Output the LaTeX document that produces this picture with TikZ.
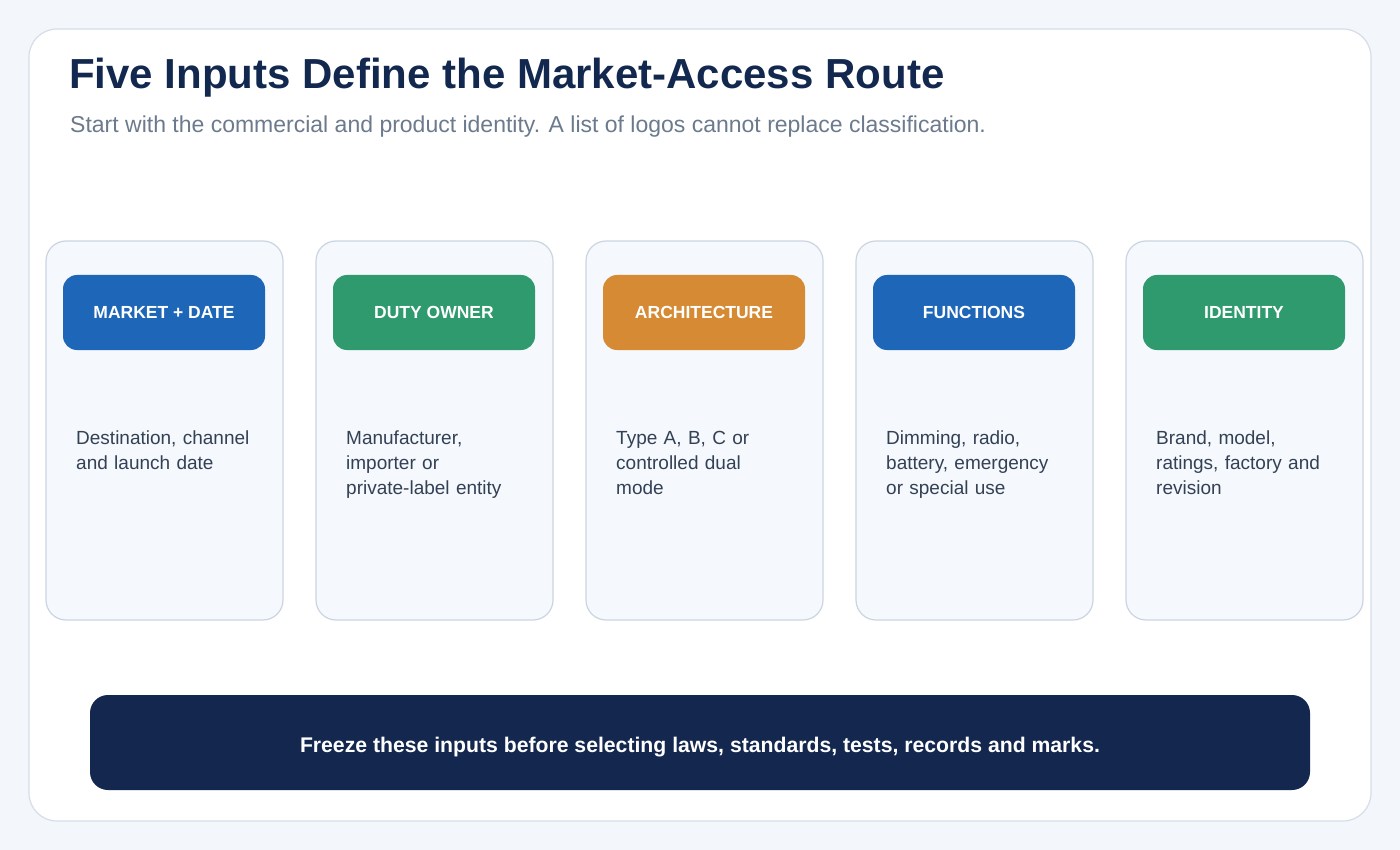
\documentclass[tikz,border=0pt]{standalone}
\usepackage{fontspec}
\setmainfont{Liberation Sans}
\definecolor{pagebg}{HTML}{F3F6FA}
\definecolor{cardline}{HTML}{D5DEE8}
\definecolor{colfill}{HTML}{F5F8FC}
\definecolor{colline}{HTML}{CBD5E1}
\definecolor{navy}{HTML}{13284F}
\definecolor{subgray}{HTML}{6B7A8D}
\definecolor{bodytxt}{HTML}{334155}
\definecolor{cblue}{HTML}{1E66B8}
\definecolor{cgreen}{HTML}{2E9A6E}
\definecolor{corange}{HTML}{D68A33}
\definecolor{banner}{HTML}{13274F}
\begin{document}
\begin{tikzpicture}[x=1pt,y=-1pt,
  colbox/.style={draw=colline,line width=1.2pt,fill=colfill,rounded corners=20pt},
  badge/.style={rounded corners=14pt,minimum width=202pt,minimum height=75pt,inner sep=0pt,
    text=white,font=\fontsize{17.5}{20}\selectfont\bfseries},
  bodytext/.style={anchor=north west,inner sep=0pt,align=left,text width=205pt,text=bodytxt,
    font=\fontsize{19}{25}\selectfont}]
\useasboundingbox (0,0) rectangle (1400,850);
\fill[pagebg] (0,0) rectangle (1400,850);
\draw[cardline,fill=white,line width=1.2pt,rounded corners=28pt] (29,29) rectangle (1371,821);
\node[anchor=base west,inner sep=0pt,text=navy,font=\fontsize{42}{50}\selectfont\bfseries] (title) at (69,89) {Five Inputs Define the Market-Access Route};
\node[anchor=base west,inner sep=0pt,text=subgray,font=\fontsize{23}{27}\selectfont] (subtitle) at (70,133) {Start with the commercial and product identity. A list of logos cannot replace classification.};
\foreach \i/\col/\lab/\txt in {0/cblue/MARKET + DATE/{Destination, channel\\and launch date},
  1/cgreen/DUTY OWNER/{Manufacturer,\\importer or\\private-label entity},
  2/corange/ARCHITECTURE/{Type A, B, C or\\controlled dual\\mode},
  3/cblue/FUNCTIONS/{Dimming, radio,\\battery, emergency\\or special use},
  4/cgreen/IDENTITY/{Brand, model,\\ratings, factory and\\revision}}{
  \draw[colbox] (46+270*\i,241) rectangle (283+270*\i,620);
  \node[badge,fill=\col] (badge\i) at (164+270*\i,312.5) {\lab};
  \node[bodytext] (body\i) at (76+270*\i,431) {\txt};
}
\node[fill=banner,rounded corners=18pt,minimum width=1220pt,minimum height=95pt,inner sep=0pt] (banner) at (700,742.5) {};
\node[text=white,font=\fontsize{21.2}{25}\selectfont\bfseries,anchor=base,inner sep=0pt] (bannertext) at ([yshift=-10pt]banner.center)
  {Freeze these inputs before selecting laws, standards, tests, records and marks.};
\end{tikzpicture}
\end{document}
